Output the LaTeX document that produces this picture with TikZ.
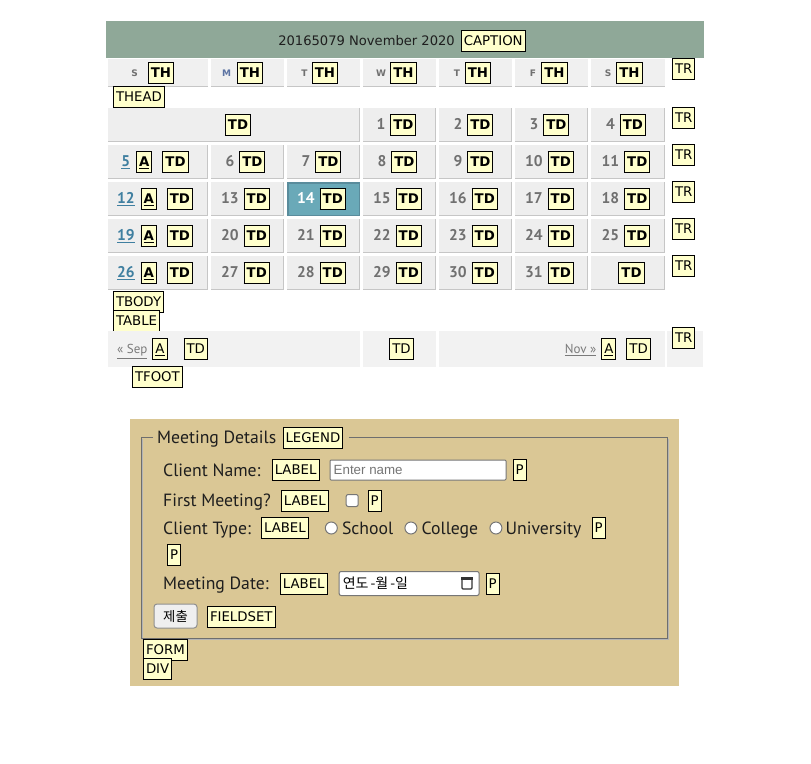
\documentclass[tikz,border=0pt]{standalone}
\usepackage{fontspec}
\setmainfont{PT Sans}
\newfontfamily\labf{DejaVu Sans}
\newfontfamily\krf{Noto Sans CJK KR}
\newfontfamily\arf{Liberation Sans}
\usetikzlibrary{positioning}
\definecolor{labyel}{HTML}{FFFFCC}
\definecolor{capbg}{HTML}{8FA898}
\definecolor{cellbg}{HTML}{EEEEEE}
\definecolor{cellbd}{HTML}{C6C6C6}
\definecolor{hdbg}{HTML}{F0F0F0}
\definecolor{footbg}{HTML}{F2F2F2}
\definecolor{numgray}{HTML}{707070}
\definecolor{linkc}{HTML}{3F7FA0}
\definecolor{hlbg}{HTML}{6AA9B8}
\definecolor{hlbd}{HTML}{5A8C9C}
\definecolor{divbg}{HTML}{DAC795}
\definecolor{fsbd}{HTML}{6E6E6E}
\definecolor{fsbl}{HTML}{B4B4B4}
\definecolor{ftxt}{HTML}{1E1E1E}
\definecolor{mblue}{HTML}{5C73A3}
\definecolor{inpbd}{HTML}{767676}
\definecolor{phgray}{HTML}{757575}
\definecolor{btnbg}{HTML}{EFEFEF}
\definecolor{btnbd}{HTML}{8F8F8F}
\definecolor{sepc}{HTML}{7A7A7A}
\newcommand\tg[1]{{\setlength\fboxsep{0pt}\setlength\fboxrule{1pt}\fcolorbox{black}{labyel}{\rule[-5.25pt]{0pt}{20pt}\hspace{2pt}{\color{black}\labf\fontsize{13.3}{13.3}\selectfont #1}\hspace{2pt}}}}
\newcommand\tgb[1]{\tg{\bfseries #1}}
\newcommand\cnum[1]{{\fontsize{15.5}{15.5}\selectfont\bfseries\color{numgray}#1}}
\newcommand\clink[1]{{\fontsize{15.5}{15.5}\selectfont\bfseries\color{linkc}\underline{#1}}}
\newcommand\hdl[2][numgray]{{\labf\bfseries\fontsize{9}{9}\selectfont\color{#1}#2}}
\newcommand\sepf[1]{{\fontsize{13}{13}\selectfont\color{sepc}\underline{#1}}}
\tikzset{
  lab/.style={draw=black, line width=1pt, fill=labyel, font=\labf\fontsize{13.3}{13.3}\selectfont, inner xsep=2.5pt, inner ysep=0pt, minimum height=21pt, text height=9.7pt, text depth=0pt},
  labb/.style={lab, font=\labf\bfseries\fontsize{13.3}{13.3}\selectfont},
  ft/.style={font=\fontsize{17.7}{17.7}\selectfont, text=ftxt, inner sep=0pt, text height=12.4pt, text depth=0pt, anchor=west},
  inp/.style={draw=inpbd, fill=white, line width=1pt, inner sep=0pt, rounded corners=1pt},
  radio/.style={circle, draw=inpbd, fill=white, line width=1pt, minimum size=12pt, inner sep=0pt},
  cellnode/.style={inner sep=0pt},
  calcell/.style={fill=cellbg},
  calbd/.style={draw=cellbd, line width=1.5pt},
}
\begin{document}
\begin{tikzpicture}[x=1pt,y=-1pt]
\useasboundingbox (0,0) rectangle (811,763);
\fill[white] (0,0) rectangle (811,763);
% caption
\fill[capbg] (106,21) rectangle (704,58);
\node[cellnode] (cap) at (402,41) {\labf\fontsize{13.1}{13.1}\selectfont\color{ftxt}20165079 November 2020\hspace{6pt}\tg{CAPTION}};
% header cells
\foreach \l/\r in {108/208,211/284,287/360,363/436,439/512,515/588,591/665} {
  \fill[hdbg] (\l,59) rectangle (\r,87);
  \draw[calbd] (\l,86.25) -- (\r,86.25);
}
\foreach \x/\t [count=\i] in {134.5/S,226.5/M,304.5/T,381/W,457/T,533/F,608/S} {
  \ifnum\i=2
    \node[cellnode] (hl\i) at (\x,73) {\hdl[mblue]{\t}};
  \else
    \node[cellnode] (hl\i) at (\x,73) {\hdl{\t}};
  \fi
}
\foreach \x [count=\i] in {161,250,325,403.5,478,554.5,629.5}
  \node[labb] (th\i) at (\x,72.5) {TH};
% body cells
\foreach \l/\r in {108/360,363/436,439/512,515/588,591/665} {
  \fill[calcell] (\l,108) rectangle (\r,142);
  \draw[calbd] (\l,141.25) -- ({\r-0.75},141.25) -- ({\r-0.75},108);
}
\foreach \t in {145,182,219,256} {
  \foreach \l/\r in {108/208,211/284,287/360,363/436,439/512,515/588,591/665} {
    \fill[calcell] (\l,\t) rectangle (\r,{\t+34});
    \draw[calbd] (\l,{\t+33.25}) -- ({\r-0.75},{\t+33.25}) -- ({\r-0.75},\t);
  }
}
\fill[hlbg] (287,182) rectangle (360,216);
\draw[hlbd, line width=1.5pt] (287.75,182.75) rectangle (359.25,215.25);
% row 0
\node[cellnode] (r0a) at (238,125) {\tgb{TD}};
\foreach \cx/\n [count=\i] in {396.5/1, 473.5/2, 549.5/3, 626/4}
  \node[cellnode] (r0n\i) at (\cx,125) {\cnum{\n}\hspace{5pt}\tgb{TD}};
% column 1 link cells
\foreach \n/\cy [count=\i] in {5/162, 12/199, 19/236, 26/273}
  \node[cellnode] (lk\i) at (155,\cy) {\clink{\n}\hspace{6pt}\tgb{\underline{A}}\hspace{10pt}\tgb{TD}};
% row 1
\foreach \cx/\n [count=\i] in {245.5/6, 321.5/7, 397.5/8, 473.5/9, 549.5/10, 626/11}
  \node[cellnode] (ra\i) at (\cx,162) {\cnum{\n}\hspace{5pt}\tgb{TD}};
% row 2
\node[cellnode] (rb1) at (245.5,199) {\cnum{13}\hspace{5pt}\tgb{TD}};
\node[cellnode] (rb2) at (321.5,199) {{\fontsize{15.5}{15.5}\selectfont\bfseries\color{white}14}\hspace{5pt}\tgb{TD}};
\foreach \cx/\n [count=\i from 3] in {397.5/15, 473.5/16, 549.5/17, 626/18}
  \node[cellnode] (rb\i) at (\cx,199) {\cnum{\n}\hspace{5pt}\tgb{TD}};
% row 3
\foreach \cx/\n [count=\i] in {245.5/20, 321.5/21, 397.5/22, 473.5/23, 549.5/24, 626/25}
  \node[cellnode] (rc\i) at (\cx,236) {\cnum{\n}\hspace{5pt}\tgb{TD}};
% row 4
\foreach \cx/\n [count=\i] in {245.5/27, 321.5/28, 397.5/29, 473.5/30, 549.5/31}
  \node[cellnode] (rd\i) at (\cx,273) {\cnum{\n}\hspace{5pt}\tgb{TD}};
\node[cellnode] (rd6) at (631.5,273) {\tgb{TD}};
% TR tags
\foreach \y [count=\i] in {58,107,144,181,218,255}
  \node[lab, anchor=north west] (tr\i) at (672,\y) {TR};
% thead, tbody, table
\node[lab, anchor=north west] (thead) at (113,86) {THEAD};
\node[lab, anchor=north west] (tbody) at (113,291) {TBODY};
\node[lab, anchor=north west] (table) at (113,310) {TABLE};
% footer
\fill[footbg] (108,331) rectangle (360,367);
\fill[footbg] (363,331) rectangle (436,367);
\fill[footbg] (439,331) rectangle (665,367);
\fill[footbg] (667,331) rectangle (703,367);
\node[cellnode, anchor=west] (f1) at (117,349) {\sepf{« Sep}\hspace{5pt}\tg{\underline{A}}\hspace{16pt}\tg{TD}};
\node[cellnode] (f2) at (401.5,349) {\tg{TD}};
\node[cellnode, anchor=east] (f3) at (651,349) {\sepf{Nov »}\hspace{5pt}\tg{\underline{A}}\hspace{10pt}\tg{TD}};
\node[lab, anchor=north west] (tr7) at (672,327) {TR};
\node[lab, anchor=north west] (tfoot) at (132,366) {TFOOT};
% form area
\fill[divbg] (130,419) rectangle (679,686);
\node[ft] (lgt) at (157,437.5) {Meeting Details};
\node[lab, right=6pt of lgt] (lgl) {LEGEND};
\draw[fsbl, line width=1pt] (142.5,438.5) -- (142.5,639.5) -- (668.5,639.5) -- (668.5,438.5);
\draw[fsbd, line width=1pt] (153,437.5) -- (141.5,437.5) -- (141.5,638.5) -- (667.5,638.5) -- (667.5,437.5) -- ([xshift=6pt]lgl.east);
% client name
\node[ft] (cnt) at (163,470) {Client Name:};
\node[lab, right=11pt of cnt] (cnl) {LABEL};
\node[inp, right=10pt of cnl, minimum width=176pt, minimum height=20pt] (cni) {};
\node[inner sep=0pt, anchor=west, font=\arf\fontsize{13.33}{14}\selectfont, text=phgray] (cnp) at ([xshift=4pt]cni.west) {Enter name};
\node[lab, right=6pt of cni] (cnP) {P};
% first meeting
\node[ft] (fmt) at (163,500.5) {First Meeting?};
\node[lab, right=10pt of fmt] (fml) {LABEL};
\node[inp, rounded corners=2pt, minimum size=12pt, right=17pt of fml] (fmc) {};
\node[lab, right=9pt of fmc] (fmP) {P};
% client type
\node[ft] (ctt) at (163,528) {Client Type:};
\node[lab, right=10pt of ctt] (ctl) {LABEL};
\node[radio, right=16pt of ctl] (ra) {};
\node[ft, right=4pt of ra] (rs) {School};
\node[radio, right=11pt of rs] (rb) {};
\node[ft, right=4pt of rb] (rc) {College};
\node[radio, right=11pt of rc] (rcc) {};
\node[ft, right=3pt of rcc] (ru) {University};
\node[lab, right=10pt of ru] (ctP) {P};
% lone P
\node[lab, anchor=north west] (p4) at (167,544) {P};
% meeting date
\node[ft] (mdt) at (163,583.5) {Meeting Date:};
\node[lab, right=11pt of mdt] (mdl) {LABEL};
\node[inp, rounded corners=2pt, minimum width=140pt, minimum height=24pt, right=11pt of mdl] (mdi) {};
\node[inner sep=0pt, anchor=west, font=\krf\fontsize{14}{14}\selectfont, text=black] (mdx) at ([xshift=4pt]mdi.west) {연도\hspace{2pt}-월\hspace{2pt}-일};
\node[draw=black!80, line width=1.2pt, rounded corners=1pt, minimum width=10pt, minimum height=11pt, inner sep=0pt, anchor=east] (calic) at ([xshift=-7pt]mdi.east) {};
\fill[black!80] (calic.north west) rectangle ([yshift=-3pt]calic.north east);
\node[lab, right=6pt of mdi] (mdP) {P};
% button and tags
\node[draw=btnbd, fill=btnbg, line width=1pt, rounded corners=3pt, minimum width=43pt, minimum height=24pt, inner sep=0pt, font=\krf\fontsize{13.33}{14}\selectfont] (btn) at (175.5,616) {제출};
\node[lab, anchor=west] (fsl) at (207,617) {FIELDSET};
\node[lab, anchor=north west] (forml) at (143,639) {FORM};
\node[lab, anchor=north west] (divl) at (143,658) {DIV};
\end{tikzpicture}
\end{document}
